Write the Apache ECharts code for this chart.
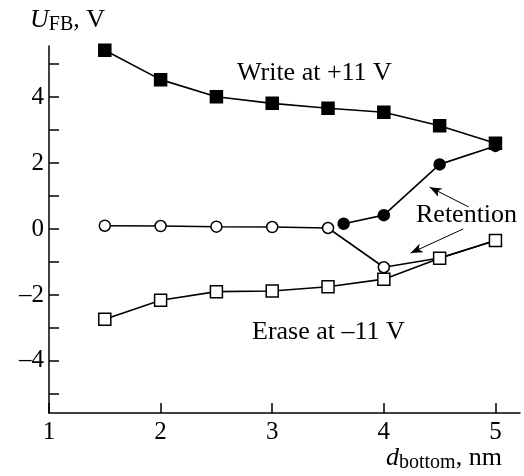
<!DOCTYPE html>
<html><head><meta charset="utf-8">
<script src="https://cdn.jsdelivr.net/npm/echarts@6/dist/echarts.min.js"></script>
<style>html,body{margin:0;padding:0;background:#fff}#c{width:524px;height:476px}</style>
</head><body><div id="c"></div>
<script>
var xTicks = [1, 2, 3, 4, 5];
var yTicks = [-5, -4, -3, -2, -1, 0, 1, 2, 3, 4, 5];
var yLabels = [-4, -2, 0, 2, 4];
var writeX = [1.5, 2.0, 2.5, 3.0, 3.5, 4.0, 4.5, 5.0];
var writeY = [5.42, 4.53, 4.01, 3.81, 3.66, 3.54, 3.13, 2.60];
var eraseX = [1.5, 2.0, 2.5, 3.0, 3.5, 4.0, 4.5, 5.0];
var eraseY = [-2.74, -2.16, -1.90, -1.88, -1.75, -1.52, -0.89, -0.35];
var retWriteX = [3.64, 4.0, 4.5, 5.0];
var retWriteY = [0.16, 0.42, 1.96, 2.52];
var retEraseX = [1.5, 2.0, 2.5, 3.0, 3.5, 4.0, 4.5, 5.0];
var retEraseY = [0.10, 0.09, 0.07, 0.06, 0.03, -1.16, -0.88, -0.35];
var arrows = [[[4.76, 0.67], [4.41, 1.27]], [[4.71, 0.0], [4.24, -0.73]]];

function pairs(xs, ys) { return xs.map(function (x, i) { return [x, ys[i]]; }); }
var FONT = 'Liberation Serif';
var chart = echarts.init(document.getElementById('c'));
function ser(name, xs, ys, symbol, size, fill) {
  return {
    name: name, type: 'line', data: pairs(xs, ys), symbol: symbol, symbolSize: size,
    showSymbol: true,
    lineStyle: { color: '#000', width: 1.6 },
    itemStyle: { color: fill, borderColor: '#000', borderWidth: 1.5 },
    z: 3
  };
}
var s = [
  ser('Retention erase', retEraseX, retEraseY, 'circle', 11, '#fff'),
  ser('Erase at -11 V', eraseX, eraseY, 'rect', 12, '#fff'),
  ser('Write at +11 V', writeX, writeY, 'rect', 12, '#000'),
  ser('Retention write', retWriteX, retWriteY, 'circle', 11, '#000')
];
s[0].markLine = {
  silent: true, symbol: ['none', 'arrow'], symbolSize: [7, 12],
  label: { show: false },
  lineStyle: { color: '#000', width: 1, type: 'solid' },
  data: arrows.map(function (a) { return [{ coord: a[0] }, { coord: a[1] }]; })
};
chart.setOption({
  animation: false,
  grid: { left: 49, right: 4, top: 46, bottom: 63 },
  xAxis: {
    type: 'value', min: 1, max: 5.22,
    axisLine: { onZero: false, lineStyle: { color: '#000', width: 1.5 } },
    axisTick: { inside: true, length: 10, lineStyle: { color: '#000', width: 1.5 }, customValues: xTicks },
    axisLabel: { customValues: xTicks, color: '#000', fontFamily: FONT, fontSize: 25, margin: 7 },
    splitLine: { show: false }
  },
  yAxis: {
    type: 'value', min: -5.58, max: 5.55,
    axisLine: { show: true, onZero: false, lineStyle: { color: '#000', width: 1.5 } },
    axisTick: { show: true, inside: true, length: 10, lineStyle: { color: '#000', width: 1.5 }, customValues: yTicks },
    axisLabel: { customValues: yLabels, color: '#000', fontFamily: FONT, fontSize: 25, margin: 5,
      formatter: function (v) { return String(v).replace('-', '\u2013'); } },
    splitLine: { show: false }
  },
  graphic: [
    { type: 'text', left: 30, top: 7, style: { text: '{u|U}{s|FB}{n|, V}', fill: '#000',
      rich: { u: { fontFamily: FONT, fontSize: 26, fontStyle: 'italic' },
              s: { fontFamily: FONT, fontSize: 20, padding: [10, 0, 0, 0] },
              n: { fontFamily: FONT, fontSize: 26 } } } },
    { type: 'text', left: 386, top: 445, style: { text: '{u|d}{s|bottom}{n|, nm}', fill: '#000',
      rich: { u: { fontFamily: FONT, fontSize: 26, fontStyle: 'italic' },
              s: { fontFamily: FONT, fontSize: 20, padding: [10, 0, 0, 0] },
              n: { fontFamily: FONT, fontSize: 26 } } } },
    { type: 'text', left: 237, top: 60, style: { text: 'Write at +11 V', fill: '#000', font: '26px "Liberation Serif"' } },
    { type: 'text', left: 252, top: 319, style: { text: 'Erase at \u201311 V', fill: '#000', font: '26px "Liberation Serif"' } },
    { type: 'text', left: 416, top: 202, style: { text: 'Retention', fill: '#000', font: '26px "Liberation Serif"' } }
  ],
  series: s
});
</script></body></html>
